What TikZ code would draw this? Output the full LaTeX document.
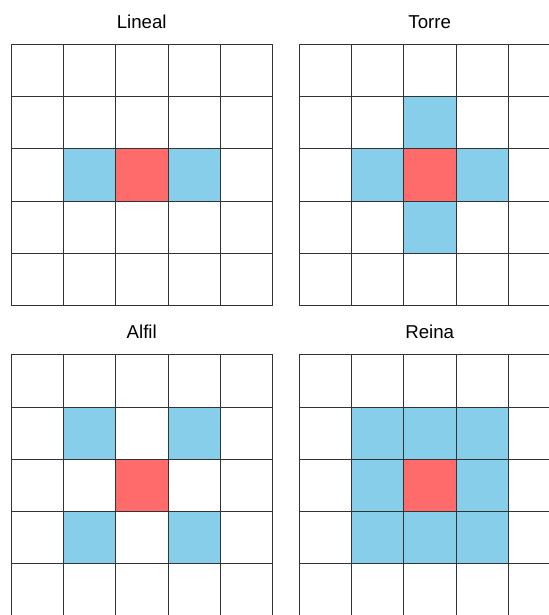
\documentclass[tikz,border=0pt]{standalone}
\usepackage{fontspec}
\setmainfont{Liberation Sans}
\definecolor{cellblue}{HTML}{87CEEB}
\definecolor{cellred}{HTML}{FF6A6A}
\tikzset{
  gridline/.style={draw=black!80, line width=0.45pt},
  boardtitle/.style={font=\fontsize{14}{16}\selectfont, inner sep=0pt, anchor=base},
}
\newcommand\cs{52.3}
\newcommand\board[5]{%
  \begin{scope}[shift={(#2,#3)}]
    \foreach \r/\c in {#4} {\fill[cellblue] (\c*\cs,\r*\cs) rectangle ++(\cs,\cs);}
    \fill[cellred] (2*\cs,2*\cs) rectangle ++(\cs,\cs);
    \foreach \i in {0,...,5} {
      \draw[gridline] (\i*\cs,0) -- (\i*\cs,5*\cs);
      \draw[gridline] (0,\i*\cs) -- (5*\cs,\i*\cs);
    }
    \node[boardtitle] (#1) at (2.5*\cs,-16) {#5};
  \end{scope}}
\begin{document}
\begin{tikzpicture}[x=0.75pt,y=-0.75pt]
\useasboundingbox (0,0) rectangle (549,615);
\clip (0,0) rectangle (549,615);
\board{lineal}{11}{44}{2/1,2/3}{Lineal}
\board{torre}{299}{44}{1/2,2/1,2/3,3/2}{Torre}
\board{alfil}{11}{354.5}{1/1,1/3,3/1,3/3}{Alfil}
\board{reina}{299}{354.5}{1/1,1/2,1/3,2/1,2/3,3/1,3/2,3/3}{Reina}
\end{tikzpicture}
\end{document}
